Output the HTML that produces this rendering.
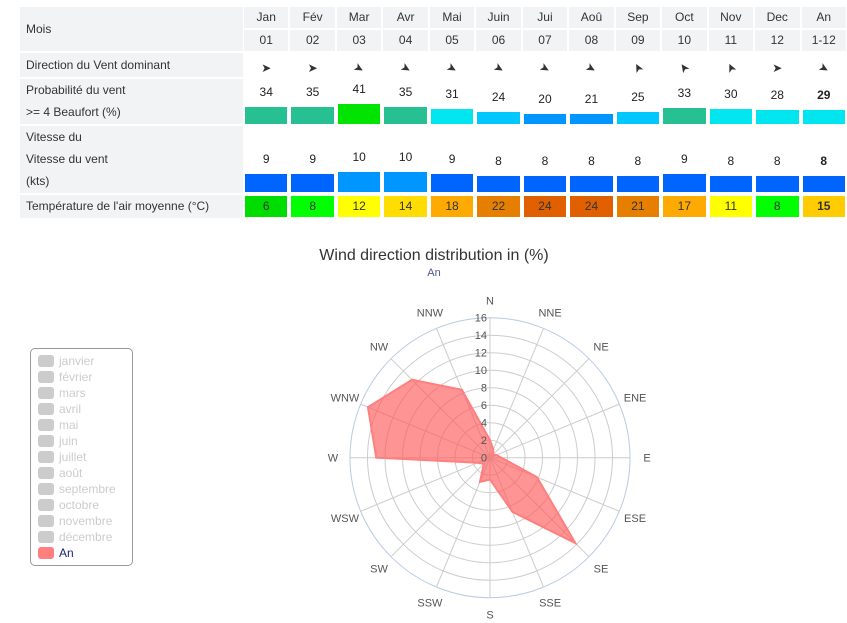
<!DOCTYPE html>
<html><head><meta charset="utf-8">
<style>
body{margin:0;width:847px;height:623px;background:#fff;font-family:"Liberation Sans",sans-serif;position:relative;overflow:hidden;color:#333}
.a{position:absolute}
.lab{position:absolute;left:20px;width:223px;background:#f2f3f5;font-size:12px;color:#333;box-sizing:border-box;padding-left:6px}
.hc{position:absolute;background:#f2f3f5;font-size:12px;text-align:center;color:#333}
.num{position:absolute;font-size:12px;text-align:center;color:#222}
.bar{position:absolute}
.tc{position:absolute;font-size:12px;text-align:center;color:#333;line-height:21px}
.arr{position:absolute;font-size:12px;text-align:center;width:20px;line-height:14px}
</style></head><body>
<div id="table"></div>
<div class="a" style="left:234px;width:400px;top:247px;text-align:center;font-size:16px;color:#333">Wind direction distribution in (%)</div>
<div class="a" style="left:384px;width:100px;top:267px;text-align:center;font-size:11px;color:#4d5b8c">An</div>
<div class="a" style="left:30px;top:348px;width:101px;height:216px;border:1px solid #999;border-radius:5px"></div>
<div id="legend"></div>
<svg id="polar" class="a" style="left:0;top:0" width="847" height="623"></svg>
<script>
const months=["Jan","Fév","Mar","Avr","Mai","Juin","Jui","Aoû","Sep","Oct","Nov","Dec","An"];
const monthNums=["01","02","03","04","05","06","07","08","09","10","11","12","1-12"];
const arrowRot=[0,0,30,30,30,30,30,30,-118,-125,-115,0,30];
const probVals=[34,35,41,35,31,24,20,21,25,33,30,28,29];
const speedVals=[9,9,10,10,9,8,8,8,8,9,8,8,8];
const tempVals=[6,8,12,14,18,22,24,24,21,17,11,8,15];
function probColor(v){return v>=40?"#00e400":v>=32?"#26c093":v>=26?"#00e5ee":v>=22?"#00c8ff":"#0096ff";}
function speedColor(v){return v>=10?"#0096ff":"#0064ff";}
function tempColor(v){return v<=6?"#00dd00":v<=8?"#00ff00":v<=12?"#ffff00":v<=14?"#ffdd00":v<=16?"#ffcc00":v<=18?"#ffaa00":v<=22?"#e67e00":"#e06000";}
const T=document.getElementById('table');
function add(cls,style,txt,name){const d=document.createElement('div');d.className=cls;d.style.cssText=style;if(txt!==undefined)d.textContent=txt;


T.appendChild(d);return d;}
add('lab','top:7px;height:44px;line-height:44px','Mois','row-label-mois');
add('lab','top:53px;height:24px;line-height:24px','Direction du Vent dominant','row-label-direction');
add('lab','top:79px;height:45px;line-height:22px','Probabilité du vent','row-label-probability').innerHTML='Probabilité du vent<br>&gt;= 4 Beaufort (%)';
add('lab','top:126px;height:67px;line-height:22px','','row-label-speed').innerHTML='Vitesse du<br>Vitesse du vent<br>(kts)';
add('lab','top:195px;height:23px;line-height:23px','Température de l\'air moyenne (°C)','row-label-temperature');
const x0=243,cw=46.46;
months.forEach((m,i)=>{
 const x=x0+i*cw+1, w=cw-2;
 const b=i==12?'font-weight:bold;':'';
 add('hc',`left:${x}px;width:${w}px;top:7px;height:21px;line-height:21px`,m,'month-header');
 add('hc',`left:${x}px;width:${w}px;top:30px;height:21px;line-height:21px`,monthNums[i],'month-number');
 add('arr',`left:${x+w/2-10}px;top:61px;transform:rotate(${arrowRot[i]}deg)`,'➤','direction-arrow');
 const ph=Math.max(8,probVals[i]*0.5);
 add('bar',`left:${x+1}px;width:${w-2}px;top:${124-ph}px;height:${ph}px;background:${probColor(probVals[i])}`,undefined,'probability-bar');
 add('num',`left:${x}px;width:${w}px;top:${124-ph-22}px;${b}`,probVals[i],'probability-value');
 const sh=speedVals[i]*2;
 add('bar',`left:${x+1}px;width:${w-2}px;top:${192-sh}px;height:${sh}px;background:${speedColor(speedVals[i])}`,undefined,'speed-bar');
 add('num',`left:${x}px;width:${w}px;top:${192-sh-22}px;${b}`,speedVals[i],'speed-value');
 add('tc',`left:${x+1}px;width:${w-2}px;top:196px;height:21px;background:${tempColor(tempVals[i])};${b}`,tempVals[i],'temperature-cell');
});
// legend
const legendNames=["janvier","février","mars","avril","mai","juin","juillet","août","septembre","octobre","novembre","décembre","An"];
const L=document.getElementById('legend');
legendNames.forEach((n,i)=>{
 const on=i==12;
 const d=document.createElement('div');
 
 
 d.className='a';
 d.style.cssText=`left:38px;top:${354+i*16}px;height:14px;font-size:12px;line-height:14px;color:${on?'#1a237e':'#ccc'};white-space:nowrap`;
 d.innerHTML=`<span style="display:inline-block;width:16px;height:12px;border-radius:3px;vertical-align:-2px;margin-right:5px;background:${on?'#ff7f7f':'#ccc'}"></span>${n}`;
 L.appendChild(d);
});
// polar
const dirs=["N","NNE","NE","ENE","E","ESE","SE","SSE","S","SSW","SW","WSW","W","WNW","NW","NNW"];
const windVals=[2,1,0.5,0.8,1.3,5.8,13.8,6.7,2.5,3,1,1.5,13,15.1,12.6,8.4];
const ticks=[0,2,4,6,8,10,12,14,16];
const cx=490,cy=457.7,R=140,maxV=16;
const rScale=v=>v/maxV*R;
const ang=i=>i*Math.PI/8;
const S=document.getElementById('polar'),NS='http://www.w3.org/2000/svg';
function el(t,a,name){const e=document.createElementNS(NS,t);for(const k in a)e.setAttribute(k,a[k]);


S.appendChild(e);return e;}
ticks.forEach(t=>{if(t>0)el('circle',{cx,cy,r:rScale(t),fill:'none',stroke:t==16?'#b8cbe4':'#ccc','stroke-width':1},'grid-ring');});
dirs.forEach((d,i)=>{
 const a=ang(i);
 el('line',{x1:cx,y1:cy,x2:cx+R*Math.sin(a),y2:cy-R*Math.cos(a),stroke:'#ccc'},'grid-spoke');
 const tx=el('text',{x:cx+(R+17)*Math.sin(a),y:cy-(R+17)*Math.cos(a)+4,'text-anchor':'middle','font-size':11,fill:'#555','font-family':'Liberation Sans'},'direction-label');
 tx.textContent=d;
});
const pts=windVals.map((v,i)=>[cx+rScale(v)*Math.sin(ang(i)),cy-rScale(v)*Math.cos(ang(i))]);
el('polygon',{points:pts.map(p=>p.join(',')).join(' '),fill:'rgba(255,90,90,0.65)',stroke:'#ff7f7f','stroke-width':2},'series-an-area');
ticks.forEach(t=>{const tx=el('text',{x:cx-3,y:cy-rScale(t)+4,'text-anchor':'end','font-size':11,fill:'#555','font-family':'Liberation Sans'},'radial-tick-label');tx.textContent=t;});
</script>
</body></html>
